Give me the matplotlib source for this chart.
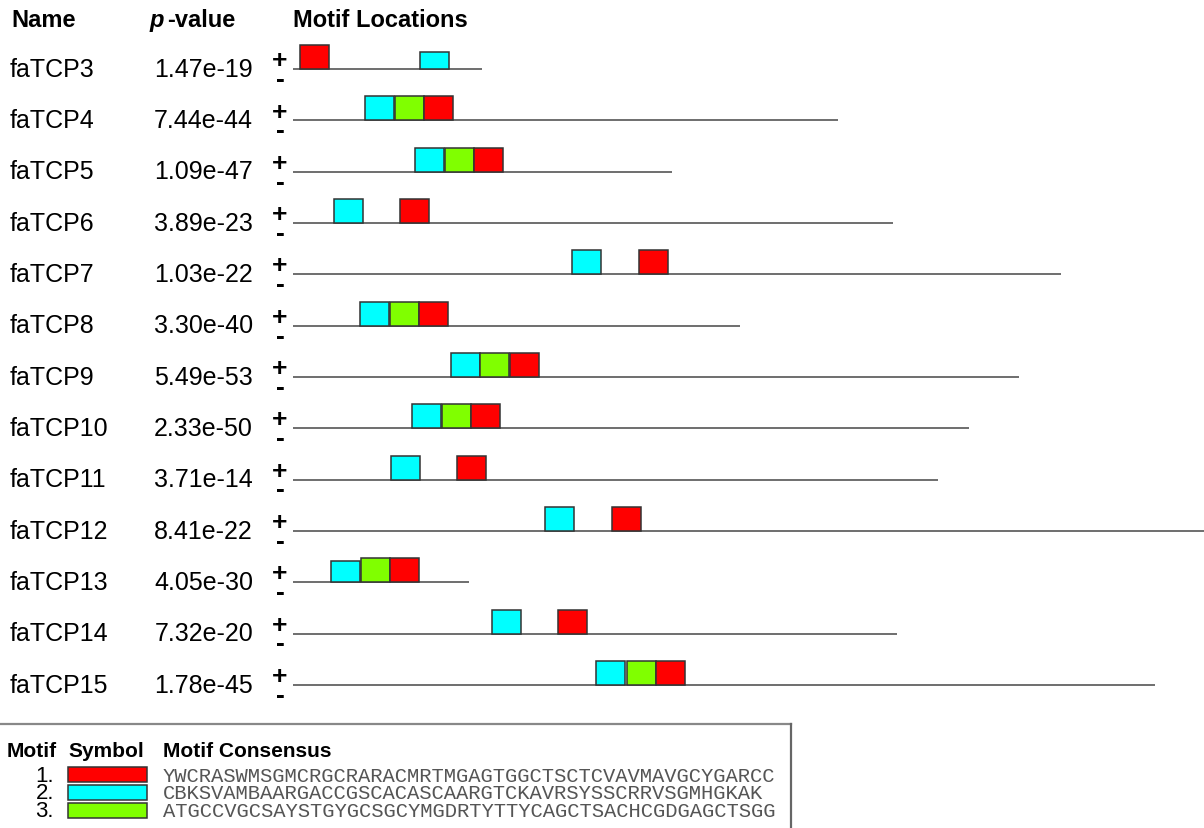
import matplotlib.pyplot as plt
import matplotlib.patches as patches
import matplotlib.transforms as mtransforms

# sequences, p-values and motif sites (positions in nt, relative heights)
names = ['faTCP3', 'faTCP4', 'faTCP5', 'faTCP6', 'faTCP7', 'faTCP8', 'faTCP9',
         'faTCP10', 'faTCP11', 'faTCP12', 'faTCP13', 'faTCP14', 'faTCP15']
pvalues = ['1.47e-19', '7.44e-44', '1.09e-47', '3.89e-23', '1.03e-22', '3.30e-40',
           '5.49e-53', '2.33e-50', '3.71e-14', '8.41e-22', '4.05e-30', '7.32e-20',
           '1.78e-45']
seq_len = [326, 940, 653, 1034, 1324, 771, 1252, 1166, 1112, 1600, 303, 1041, 1486]

# motif 1 (red), 2 (cyan), 3 (green); None = no site
motif1_pos = [12, 226, 312, 184, 597, 217, 374, 307, 283, 550, 167, 457, 626]
motif2_pos = [219, 124, 210, 71, 481, 116, 272, 205, 169, 434, 66, 343, 522]
motif3_pos = [None, 176, 262, None, None, 167, 322, 257, None, None, 117, None, 576]
motif1_h = [1.0] * 13
motif2_h = [0.72, 1.0, 1.0, 1.0, 1.0, 1.0, 1.0, 1.0, 1.0, 1.0, 0.9, 1.0, 1.0]
motif3_h = [1.0] * 13

motif_width = 50
motif_ids = ['1.', '2.', '3.']
motif_colors = ['#ff0000', '#00ffff', '#80ff00']
consensus = ['YWCRASWMSGMCRGCRARACMRTMGAGTGGCTSCTCVAVMAVGCYGARCC',
             'CBKSVAMBAARGACCGSCACASCAARGTCKAVRSYSSCRRVSGMHGKAK',
             'ATGCCVGCSAYSTGYGCSGCYMGDRTYTTYCAGCTSACHCGDGAGCTSGG']

W, H = 1204, 829
fig = plt.figure(figsize=(W / 100, H / 100), dpi=100)

# page axes in pixel units for the text columns and the legend box
page = fig.add_axes([0, 0, 1, 1])
page.set_xlim(0, W)
page.set_ylim(H, 0)
page.axis('off')

# motif axes: x in nt, one row per sequence
row_px = 51.33
top_px = 70 - row_px
bot_px = top_px + 14 * row_px
x0_px = 293
ax = fig.add_axes([x0_px / W, 1 - bot_px / H, (W - x0_px) / W, (bot_px - top_px) / H])
ax.set_xlim(0, (W - x0_px) * motif_width / 29.0)
ax.set_ylim(13, -1)
ax.axis('off')

box_h = 24 / row_px
edge = '#333333'
for i in range(len(names)):
    ax.hlines(i, 0, seq_len[i], color='#555555', lw=1.2, zorder=1)
    for pos, hts, col in ((motif2_pos, motif2_h, motif_colors[1]),
                          (motif3_pos, motif3_h, motif_colors[2]),
                          (motif1_pos, motif1_h, motif_colors[0])):
        if pos[i] is None:
            continue
        h = box_h * hts[i]
        ax.add_patch(patches.Rectangle((pos[i], i - h), motif_width, h,
                                       facecolor=col, edgecolor=edge,
                                       lw=1.1, zorder=2))

font = 'Liberation Sans'
tr = mtransforms.blended_transform_factory(page.transData, ax.transData)
for i in range(len(names)):
    ax.text(10, i + 0.13, names[i], transform=tr, ha='left', va='baseline',
            fontsize=18, family=font)
    ax.text(253, i + 0.13, pvalues[i], transform=tr, ha='right', va='baseline',
            fontsize=18, family=font)
    # strand marks, one text block
    ax.text(280, i + 0.01, '+\n-', transform=tr, ha='center', va='center',
            multialignment='center', linespacing=0.72,
            fontsize=19, fontweight='bold', family=font)

# headers
page.text(11, 27, 'Name', fontsize=17, fontweight='bold', family=font, va='baseline')
page.text(150, 27, 'p', fontsize=17, fontweight='bold', style='italic',
          family=font, va='baseline')
page.text(167, 27, '-value', fontsize=17, fontweight='bold', family=font, va='baseline')
page.text(293, 27, 'Motif Locations', fontsize=17, fontweight='bold',
          family=font, va='baseline')

# legend box
page.plot([0, 791], [725, 725], color='#888888', lw=1.6)
page.plot([791, 791], [725, 829], color='#666666', lw=1.6)
page.text(7, 757, 'Motif', fontsize=15, fontweight='bold', family=font, va='baseline')
page.text(68, 757, 'Symbol', fontsize=15, fontweight='bold', family=font, va='baseline')
page.text(163, 757, 'Motif Consensus', fontsize=15, fontweight='bold',
          family=font, va='baseline')
page.text(54, 794, '\n'.join(motif_ids), fontsize=16, family=font,
          ha='right', va='center', multialignment='right', linespacing=0.79)
page.text(163, 794, '\n'.join(consensus), fontsize=14.8, family='Liberation Mono',
          color='#555555', ha='left', va='center', linespacing=0.9)
for k in range(3):
    yc = 775 + 18 * k
    page.add_patch(patches.Rectangle((68, yc - 7.5), 79, 15,
                                     facecolor=motif_colors[k], edgecolor=edge, lw=1.1))

fig.savefig('out.png', dpi=100)
